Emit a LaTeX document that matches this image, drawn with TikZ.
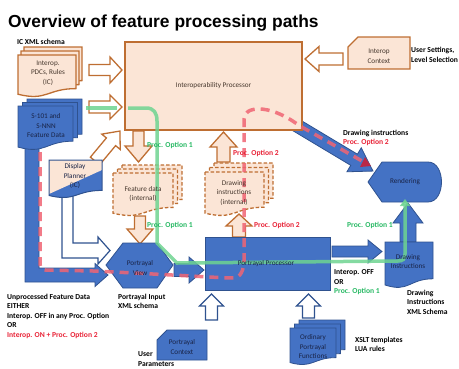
\documentclass[tikz,border=0pt]{standalone}
\usepackage{fontspec}
\setmainfont{Carlito}
\newfontfamily\titlefont{Liberation Sans}
\usetikzlibrary{arrows.meta}
\definecolor{tanfill}{RGB}{251,229,214}
\definecolor{orangeline}{RGB}{190,110,50}
\definecolor{bluefill}{RGB}{68,114,196}
\definecolor{blueline}{RGB}{47,82,143}
\definecolor{greenline}{RGB}{110,212,145}
\definecolor{redline}{RGB}{240,100,115}
\definecolor{reddark}{RGB}{185,40,70}
\definecolor{greentext}{RGB}{40,185,100}
\definecolor{redtext}{RGB}{232,35,55}
\definecolor{navytext}{RGB}{25,35,70}
\definecolor{browntext}{RGB}{70,55,45}
\newcommand\myNodeFont{\fontsize{7.2}{9.5}\selectfont}
\newcommand\myLabFont{\bfseries\fontsize{7.6}{9.5}\selectfont}
% document shape: options, x1, y1, x2, y2 (y grows downwards)
\newcommand\docp[5]{\path[#1] ({#2},{#3}) -- ({#4},{#3}) -- ({#4},{#3+0.8*(#5-#3)}) .. controls ({(#2+#4)/2},{#3+0.8*(#5-#3)}) and ({(#2+#4)/2},{#3+1.107*(#5-#3)}) .. ({#2},{#3+0.934*(#5-#3)}) -- cycle;}
% stack of three documents: options, x1, y1, x2, y2, dx, dy
\newcommand\mdoc[7]{%
\pgfmathsetmacro\mdA{#2+2*#6}\pgfmathsetmacro\mdB{#3-2*#7}\pgfmathsetmacro\mdC{#4+2*#6}\pgfmathsetmacro\mdD{#5-2*#7}%
\docp{#1}{\mdA}{\mdB}{\mdC}{\mdD}%
\pgfmathsetmacro\mdA{#2+#6}\pgfmathsetmacro\mdB{#3-#7}\pgfmathsetmacro\mdC{#4+#6}\pgfmathsetmacro\mdD{#5-#7}%
\docp{#1}{\mdA}{\mdB}{\mdC}{\mdD}%
\docp{#1}{#2}{#3}{#4}{#5}}
% block arrow: options, x, y, angle, length, body half width, head half width, head length
\newcommand\barrow[8]{\begin{scope}[shift={(#2,#3)},rotate=#4]\path[#1] (0,-#6) -- ({#5-#8},-#6) -- ({#5-#8},-#7) -- (#5,0) -- ({#5-#8},#7) -- ({#5-#8},#6) -- (0,#6) -- cycle;\end{scope}}
\tikzset{
 hollowO/.style={fill=white, draw=orangeline, line width=1.3pt},
 solidO/.style={fill=tanfill, draw=orangeline, line width=1.3pt},
 blueA/.style={fill=bluefill, draw=blueline, line width=0.8pt},
 hollowB/.style={fill=white, draw=blueline, line width=1.2pt},
 tanshape/.style={fill=tanfill, draw=orangeline, line width=1.3pt},
 dashdoc/.style={fill=tanfill, draw=orangeline, line width=1.3pt, dash pattern=on 3.5pt off 2pt},
 blueshape/.style={fill=bluefill, draw=blueline, line width=0.8pt},
 ttxt/.style={font=\myNodeFont, text=browntext, align=center, inner sep=0},
 btxt/.style={font=\myNodeFont, text=navytext, align=center, inner sep=0},
 lab/.style={font=\myLabFont, align=left, anchor=west, inner sep=0, text=black},
 greenpath/.style={draw=greenline, line width=3.5pt, opacity=0.85},
 redpath/.style={draw=redline, line width=3.5pt, dash pattern=on 9pt off 6pt, opacity=0.85},
}
\begin{document}
\begin{tikzpicture}[x=1pt,y=-1pt]
\useasboundingbox (0,0) rectangle (459,368);
\node[anchor=base west, inner sep=0, font=\titlefont\bfseries\fontsize{17.4}{20}\selectfont] (title) at (8,27) {Overview of feature processing paths};

% L-shaped arrows under the hexagon
\path[blueA] (25,148) -- (39,148) -- (39,268) -- (95,268) -- (95,263.5) -- (108,275) -- (95,286.5) -- (95,282) -- (25,282) -- cycle;
\path[hollowB] (62,196) -- (73,196) -- (73,243) -- (98,243) -- (98,237) -- (110,250.5) -- (98,264) -- (98,258) -- (62,258) -- cycle;

% diagonal arrow to rendering
\barrow{blueA}{296}{125}{-30.9}{89.7}{6.5}{14}{22}

% Interoperability processor
\node[tanshape, ttxt, minimum width=177pt, minimum height=88pt] (ip) at (213.5,86) {Interoperability Processor};

% Interop PDCs stack
\mdoc{tanshape}{18}{55}{76}{97}{3}{4}
\node[ttxt] (pdc) at (48,73) {Interop.\\PDCs, Rules\\(IC)};
% S-101 stack
\mdoc{blueshape}{18}{106}{73}{150}{4.5}{3.5}
\node[btxt] (s101) at (46,126) {S-101 and\\S-NNN\\Feature Data};

% Interop context
\path[tanshape] (348,47) -- (358,37) -- (410,37) -- (410,69) -- (348,69) -- cycle;
\node[ttxt] (ctx) at (379,56) {Interop\\Context};

% hollow arrows into interop processor
\barrow{hollowO}{89}{70}{0}{33}{5.5}{13}{12}
\barrow{hollowO}{89}{107}{0}{33}{6}{12}{12}
\barrow{hollowO}{343}{59}{180}{38}{6}{12.5}{14}
\barrow{hollowO}{95}{161}{50.2}{39}{6}{12}{14}

% Display planner
\begin{scope}
\clip (49,160) -- (102,160) -- (102,190.4) .. controls (75.5,190.4) and (75.5,202) .. (49,195.5) -- cycle;
\fill[bluefill] (49,160) rectangle (102,205);
\fill[tanfill] (49,160) -- (102,160) -- (102,170) -- (49,194) -- cycle;
\end{scope}
\docp{draw=blueline, line width=1pt}{49}{160}{102}{198}
\node[btxt] (dp) at (75,176) {Display\\Planner\\(IC)};

% internal data stacks
\mdoc{dashdoc}{113}{173}{173}{216}{4.5}{4}
\mdoc{dashdoc}{205}{172}{264}{216}{4.5}{4.5}

% tan arrows
\barrow{solidO}{138.5}{131}{-90}{31}{5.5}{13.5}{16}
\barrow{solidO}{140}{216}{-90}{28}{5.5}{13}{15}
\barrow{solidO}{223.5}{162}{90}{30}{6.5}{13.5}{15}
\barrow{solidO}{239}{237}{90}{23}{6.5}{13}{12}

% Portrayal view
\path[blueshape] (106,265) -- (123,243) -- (157,243) -- (173,265) -- (157,288) -- (123,288) -- cycle;

% Portrayal processor
\node[blueshape, minimum width=125pt, minimum height=53pt, inner sep=0] (pp) at (267.5,263.5) {};

% blue arrows
\barrow{blueA}{174}{270}{0}{30}{6.5}{13}{15}
\barrow{blueA}{332}{251.5}{0}{50}{5.5}{11.5}{14}
\barrow{blueA}{408}{242}{90}{39}{8}{15}{20}

% Drawing instructions
\docp{blueshape}{385}{242}{433}{288}

% Rendering
\path[blueshape] (368,182) -- (382,162) -- (428,162) .. controls (446,162) and (446,202) .. (428,202) -- (382,202) -- cycle;
\node[btxt] (rend) at (405,182) {Rendering};

% Portrayal context and functions
\barrow{hollowB}{211.5}{320}{90}{26}{6}{12}{12}
\barrow{hollowB}{308.5}{318}{90}{24}{6}{12}{12}
\path[blueshape] (157,340) -- (167,330) -- (207,330) -- (207,360) -- (157,360) -- cycle;
\node[btxt] (pc) at (182,347) {Portrayal\\Context};
\mdoc{blueshape}{290}{328}{336}{365}{4.5}{4}
\node[btxt] (opf) at (313,347) {Ordinary\\Portrayal\\Functions};

% processing paths
\path[greenpath] (86,108) -- (117,108);
\path[greenpath, -{Triangle[length=7pt,width=10pt]}] (128,108) -- (146,108) .. controls (154,108) and (157,113) .. (157,121) -- (157,243) -- (177,263) -- (398,261) .. controls (403,261) and (405,259) .. (405,254) -- (405,199);
\path[redpath, rounded corners=6pt] (40,152) -- (40,270) -- (95,271) -- (172,275) -- (228,278) .. controls (240,278) and (244,270) .. (244,255) -- (244,125) .. controls (244,106) and (268,104) .. (300,126) -- (362,161);
\path[fill=reddark] (371,166) -- (360,167) -- (365,157) -- cycle;

% texts over the paths
\node[ttxt] (fd) at (143,194) {Feature data\\(internal)};
\node[ttxt] (dii) at (234,193) {Drawing\\instructions\\(internal)};
\node[btxt] (pv) at (140,268) {Portrayal\\View};
\node[btxt] (ppt) at (266,264) {Portrayal Processor};
\node[btxt] (di) at (408,261.5) {Drawing\\Instructions};

% labels
\node[lab] (lic) at (17,42) {IC XML schema};
\node[lab] (lus) at (411,55) {User Settings,\\Level Selection};
\node[lab] (ldi) at (343,138) {Drawing instructions\\\textcolor{redtext}{Proc. Option 2}};
\node[lab, text=greentext] (lo1) at (147,145) {Proc. Option 1};
\node[lab, text=redtext] (lo2) at (233,153) {Proc. Option 2};
\node[lab, text=greentext] (lo3) at (147,225) {Proc. Option 1};
\node[lab, text=redtext] (lo4) at (254,225) {Proc. Option 2};
\node[lab, text=greentext] (lo5) at (347,225) {Proc. Option 1};
\node[lab] (lun) at (7,316) {Unprocessed Feature Data\\EITHER\\Interop. OFF in any Proc. Option\\OR\\\textcolor{redtext}{Interop. ON + Proc. Option 2}};
\node[lab] (lpi) at (118,301.5) {Portrayal Input\\XML schema};
\node[lab] (lio) at (334,282.5) {Interop. OFF\\OR\\\textcolor{greentext}{Proc. Option 1}};
\node[lab] (ldx) at (407,302) {Drawing\\Instructions\\XML Schema};
\node[lab] (lxs) at (355,344.5) {XSLT templates\\LUA rules};
\node[lab] (lup) at (138,359) {User\\Parameters};
\end{tikzpicture}
\end{document}
